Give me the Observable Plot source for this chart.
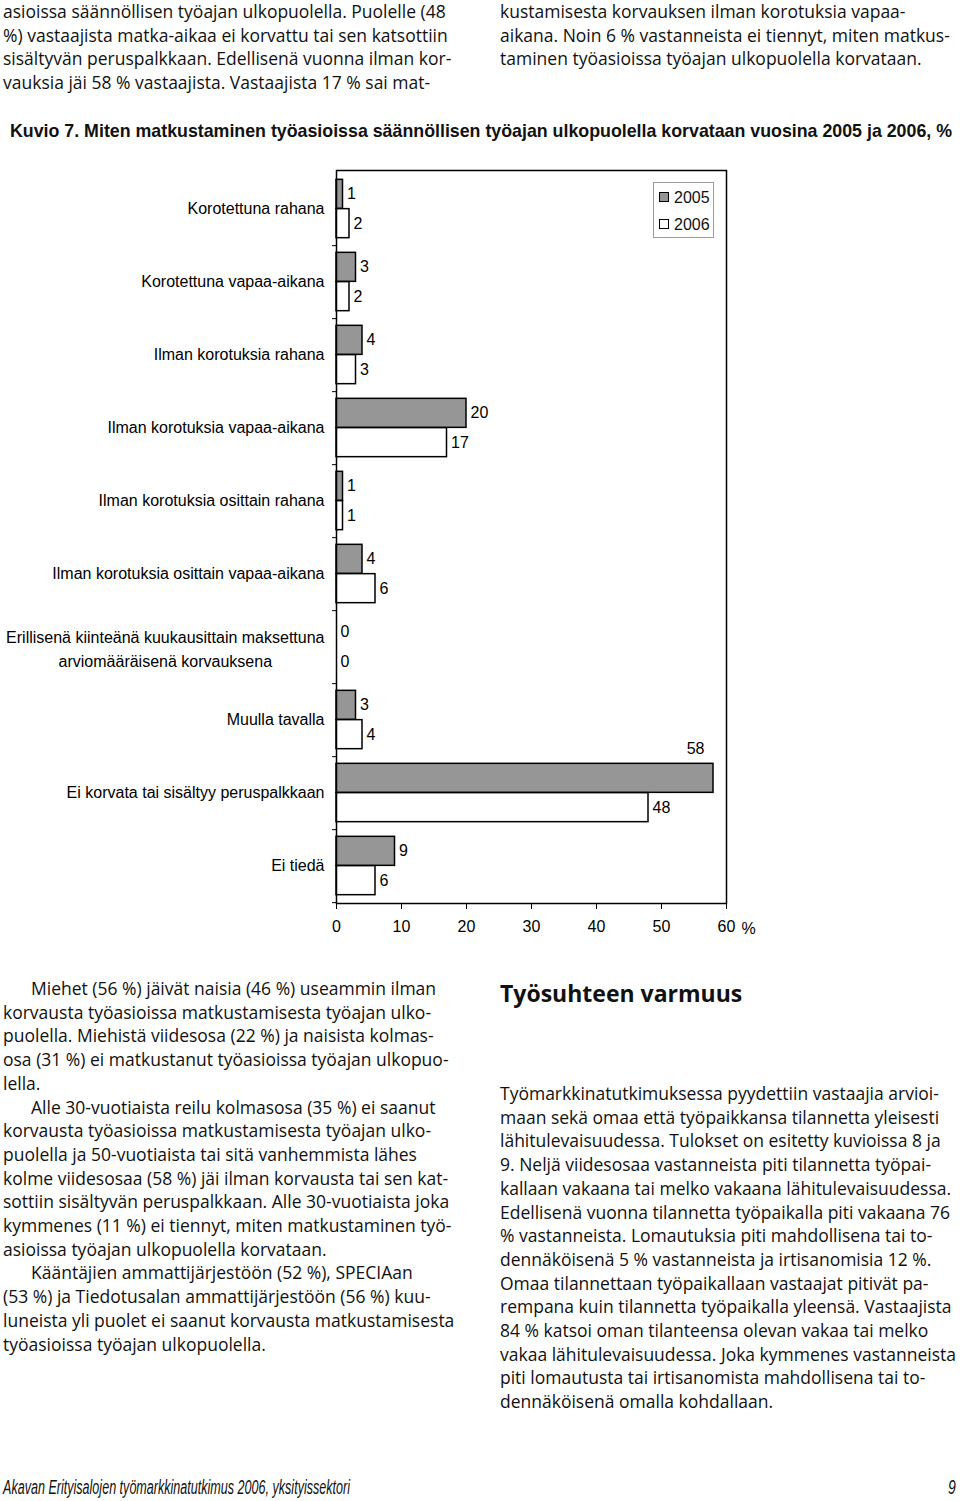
<!DOCTYPE html>
<html lang="fi">
<head>
<meta charset="utf-8">
<script src="https://cdn.jsdelivr.net/npm/d3@7"></script>
<script src="https://cdn.jsdelivr.net/npm/@observablehq/plot@0.6"></script>
<style>
  html, body { margin: 0; padding: 0; background: #fff; }
  #page { position: relative; width: 960px; height: 1501px; overflow: hidden; color: #111; }
  .col { position: absolute; font-family: "Open Sans", "Noto Sans", sans-serif; font-size: 17.5px; line-height: 23.7px; }
  .col div { white-space: nowrap; }
  .ind { padding-left: 28px; }
  .fit { position: absolute; white-space: nowrap; transform-origin: 0 50%; }
  #title { left: 10px; top: 119px; font-family: "Liberation Sans", Arial, sans-serif; font-weight: bold; font-size: 19px; line-height: 24px; }
  #heading { position: absolute; left: 500px; top: 978px; font-family: "Open Sans", sans-serif; font-weight: bold; font-size: 23px; line-height: 30px; white-space: nowrap; }
  #footer { left: 3px; top: 1475px; font-family: "Liberation Sans", Arial, sans-serif; font-style: italic; font-size: 20px; line-height: 24px; }
  #pageno { position: absolute; left: 948px; top: 1475px; font-family: "Liberation Sans", Arial, sans-serif; font-style: italic; font-size: 20px; line-height: 24px; transform: scaleX(0.7); transform-origin: 0 50%; }
  #chart { position: absolute; left: 0; top: 160px; }
  #legend { position: absolute; left: 653px; top: 182px; width: 61px; height: 56px; border: 1px solid #9a9a9a; box-sizing: border-box; font-family: "Liberation Sans", Arial, sans-serif; font-size: 16px; }
  #legend .it { position: absolute; left: 5px; height: 18px; line-height: 18px; white-space: nowrap; }
  #legend .sw { display: inline-block; width: 8px; height: 8px; border: 1px solid #000; margin-right: 5px; vertical-align: 1px; }
</style>
</head>
<body>
<div id="page">
  <div class="col" style="left:3px; top:0px;">
    <div>asioissa säännöllisen työajan ulkopuolella. Puolelle (48</div>
    <div>%) vastaajista matka-aikaa ei korvattu tai sen katsottiin</div>
    <div>sisältyvän peruspalkkaan. Edellisenä vuonna ilman kor-</div>
    <div>vauksia jäi 58 % vastaajista. Vastaajista 17 % sai mat-</div>
  </div>
  <div class="col" style="left:500px; top:0px;">
    <div>kustamisesta korvauksen ilman korotuksia vapaa-</div>
    <div>aikana. Noin 6 % vastanneista ei tiennyt, miten matkus-</div>
    <div>taminen työasioissa työajan ulkopuolella korvataan.</div>
  </div>
  <div id="title" class="fit" data-w="942">Kuvio 7. Miten matkustaminen työasioissa säännöllisen työajan ulkopuolella korvataan vuosina 2005 ja 2006, %</div>
  <div id="chart"></div>
  <div id="legend">
    <div class="it" style="top:6px;"><span class="sw" style="background:#969696"></span>2005</div>
    <div class="it" style="top:33px;"><span class="sw" style="background:#fff"></span>2006</div>
  </div>
  <div class="col" style="left:3px; top:977px;">
    <div class="ind">Miehet (56 %) jäivät naisia (46 %) useammin ilman</div>
    <div>korvausta työasioissa matkustamisesta työajan ulko-</div>
    <div>puolella. Miehistä viidesosa (22 %) ja naisista kolmas-</div>
    <div>osa (31 %) ei matkustanut työasioissa työajan ulkopuo-</div>
    <div>lella.</div>
    <div class="ind">Alle 30-vuotiaista reilu kolmasosa (35 %) ei saanut</div>
    <div>korvausta työasioissa matkustamisesta työajan ulko-</div>
    <div>puolella ja 50-vuotiaista tai sitä vanhemmista lähes</div>
    <div>kolme viidesosaa (58 %) jäi ilman korvausta tai sen kat-</div>
    <div>sottiin sisältyvän peruspalkkaan. Alle 30-vuotiaista joka</div>
    <div>kymmenes (11 %) ei tiennyt, miten matkustaminen työ-</div>
    <div>asioissa työajan ulkopuolella korvataan.</div>
    <div class="ind">Kääntäjien ammattijärjestöön (52 %), SPECIAan</div>
    <div>(53 %) ja Tiedotusalan ammattijärjestöön (56 %) kuu-</div>
    <div>luneista yli puolet ei saanut korvausta matkustamisesta</div>
    <div>työasioissa työajan ulkopuolella.</div>
  </div>
  <div id="heading">Työsuhteen varmuus</div>
  <div class="col" style="left:500px; top:1082px;">
    <div>Työmarkkinatutkimuksessa pyydettiin vastaajia arvioi-</div>
    <div>maan sekä omaa että työpaikkansa tilannetta yleisesti</div>
    <div>lähitulevaisuudessa. Tulokset on esitetty kuvioissa 8 ja</div>
    <div>9. Neljä viidesosaa vastanneista piti tilannetta työpai-</div>
    <div>kallaan vakaana tai melko vakaana lähitulevaisuudessa.</div>
    <div>Edellisenä vuonna tilannetta työpaikalla piti vakaana 76</div>
    <div>% vastanneista. Lomautuksia piti mahdollisena tai to-</div>
    <div>dennäköisenä 5 % vastanneista ja irtisanomisia 12 %.</div>
    <div>Omaa tilannettaan työpaikallaan vastaajat pitivät pa-</div>
    <div>rempana kuin tilannetta työpaikalla yleensä. Vastaajista</div>
    <div>84 % katsoi oman tilanteensa olevan vakaa tai melko</div>
    <div>vakaa lähitulevaisuudessa. Joka kymmenes vastanneista</div>
    <div>piti lomautusta tai irtisanomista mahdollisena tai to-</div>
    <div>dennäköisenä omalla kohdallaan.</div>
  </div>
  <div id="footer" class="fit" data-w="347">Akavan Erityisalojen työmarkkinatutkimus 2006, yksityissektori</div>
  <div id="pageno">9</div>
</div>
<script>
const categories = [
  "Korotettuna rahana",
  "Korotettuna vapaa-aikana",
  "Ilman korotuksia rahana",
  "Ilman korotuksia vapaa-aikana",
  "Ilman korotuksia osittain rahana",
  "Ilman korotuksia osittain vapaa-aikana",
  "Erillisenä kiinteänä kuukausittain maksettuna\narviomääräisenä korvauksena",
  "Muulla tavalla",
  "Ei korvata tai sisältyy peruspalkkaan",
  "Ei tiedä"
];
const years = ["2005", "2006"];
const values2005 = [1, 3, 4, 20, 1, 4, 0, 3, 58, 9];
const values2006 = [2, 2, 3, 17, 1, 6, 0, 4, 48, 6];
const xTicks = [0, 10, 20, 30, 40, 50, 60];
const xMax = 60;
const unitLabel = "%";

const rows2005 = categories.map((c, i) => ({cat: c, year: years[0], value: values2005[i]}));
const rows2006 = categories.map((c, i) => ({cat: c, year: years[1], value: values2006[i]}));

const W = 960, H = 790;
const mt = 10, mb = 47, ml = 336, mr = 234;
const bw = (H - mt - mb) / categories.length;
const pad = bw * 0.1, barH = bw * 0.4;
const offs = bw / 2 - pad - barH / 2;
const pxPerUnit = (W - ml - mr) / xMax;
const FONT = "16px 'Liberation Sans', Arial, sans-serif";

const ctx = document.createElement("canvas").getContext("2d");
ctx.font = FONT;
const tw = s => ctx.measureText(s).width;

// labels that would overflow the frame are placed above the bar (as in Excel)
const fits = d => (xMax - d.value) * pxPerUnit > tw(String(d.value)) + 8;

const single = categories.filter(c => !c.includes("\n"));
const multi = categories.filter(c => c.includes("\n"));
const multiW = multi.length ? Math.max(...multi[0].split("\n").map(tw)) : 0;

const chart = Plot.plot({
  width: W, height: H,
  marginTop: mt, marginBottom: mb, marginLeft: ml, marginRight: mr,
  style: {fontFamily: "'Liberation Sans', Arial, sans-serif", fontSize: "16px", color: "#000", background: "transparent"},
  x: {domain: [0, xMax], ticks: xTicks, tickSize: 6, tickPadding: 11, label: null},
  y: {domain: categories, padding: 0, axis: null},
  marks: [
    Plot.barX(rows2005, {x: "value", y: "cat", fill: "#969696", stroke: "#000", strokeWidth: 1.5,
      insetTop: pad, insetBottom: bw - pad - barH}),
    Plot.barX(rows2006, {x: "value", y: "cat", fill: "#fff", stroke: "#000", strokeWidth: 1.5,
      insetTop: pad + barH, insetBottom: pad}),
    Plot.frame({stroke: "#000", strokeWidth: 1.5}),
    Plot.ruleY(categories, {y: d => d, x1: -4 / pxPerUnit, x2: 0, dy: bw / 2, stroke: "#000", strokeWidth: 1}),
    Plot.text(rows2005.filter(fits), {x: "value", y: "cat", text: d => String(d.value), textAnchor: "start", dx: 4, dy: -offs}),
    Plot.text(rows2006.filter(fits), {x: "value", y: "cat", text: d => String(d.value), textAnchor: "start", dx: 4, dy: offs}),
    Plot.text(rows2005.filter(d => !fits(d)), {x: "value", y: "cat", text: d => String(d.value), textAnchor: "end", dx: -9, dy: -offs - barH}),
    Plot.text(rows2006.filter(d => !fits(d)), {x: "value", y: "cat", text: d => String(d.value), textAnchor: "end", dx: -9, dy: offs + barH}),
    Plot.text(single, {x: 0, y: d => d, text: d => d, textAnchor: "end", dx: -12}),
    Plot.text(multi, {x: 0, y: d => d, text: d => d, textAnchor: "middle", lineHeight: 1.5, dx: -12 - multiW / 2}),
    Plot.text([unitLabel], {x: xMax, frameAnchor: "bottom", text: d => d, dx: 22, dy: 30})
  ]
});
document.getElementById("chart").appendChild(chart);

// condensed typefaces are not installed: compress to the reference's measured width
document.querySelectorAll(".fit").forEach(el => {
  const target = +el.dataset.w;
  const natural = el.getBoundingClientRect().width;
  if (natural > 0) el.style.transform = `scaleX(${target / natural})`;
});
</script>
</body>
</html>
